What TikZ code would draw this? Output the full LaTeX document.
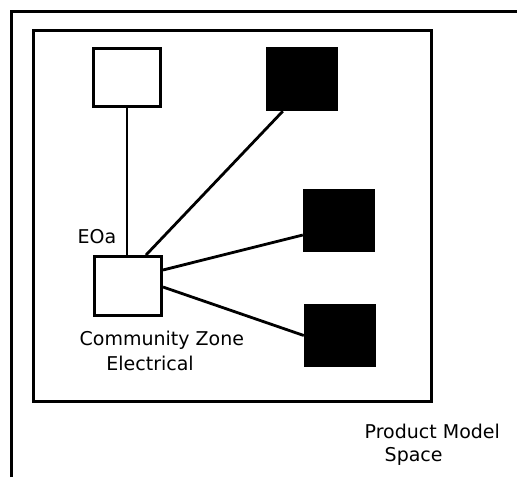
\documentclass[tikz,border=0pt]{standalone}
\usepackage{fontspec}
\setmainfont{DejaVu Sans}
\usetikzlibrary{calc}
\begin{document}
\begin{tikzpicture}[x=1pt,y=-1pt,
  frame/.style={line width=3pt},
  whitebox/.style={draw,line width=3pt,fill=white,inner sep=0pt,minimum width=67pt},
  blackbox/.style={fill=black,inner sep=0pt,minimum width=72pt,minimum height=63pt},
  link/.style={line width=2.8pt},
  lbl/.style={anchor=base west,inner sep=0pt,font=\fontsize{19}{23}\selectfont}]
\useasboundingbox (0,0) rectangle (517,477);
\fill[white] (0,0) rectangle (517,477);
% outer frame (only top and left edges visible)
\coordinate (ob) at (11.5,477);
\coordinate (oc) at (11.5,11.5);
\coordinate (or) at (517,11.5);
\draw[frame] (ob) -- (oc) -- (or);
% inner frame
\draw[frame] (33,30) rectangle (431.5,401.5);
% boxes
\node[whitebox,minimum height=58pt] (top) at (127,77.5) {};
\node[whitebox,minimum height=59pt] (bot) at (128,286) {};
\node[blackbox,minimum height=64pt] (b1) at (302,79) {};
\node[blackbox] (b2) at (339,220.5) {};
\node[blackbox] (b3) at (340,335.5) {};
% connectors
\draw[link] (top.south) -- (top.south |- bot.north);
\draw[link] ($(bot.north)+(18,0)$) -- ($(b1.south west)+(17,0)$);
\draw[link] ($(bot.east)+(0,-16)$) -- ($(b2.west)+(0,14.5)$);
\draw[link] ($(bot.east)+(0,1)$) -- (b3.west);
% labels
\node[lbl] (eoa) at (77.5,243) {EOa};
\node[lbl] (cz1) at (79.5,345.7) {Community Zone};
\node[lbl] (cz2) at (106.2,370.7) {Electrical};
\node[lbl] (pm1) at (364.5,438) {Product Model};
\node[lbl] (pm2) at (384.5,461.5) {Space};
\end{tikzpicture}
\end{document}
